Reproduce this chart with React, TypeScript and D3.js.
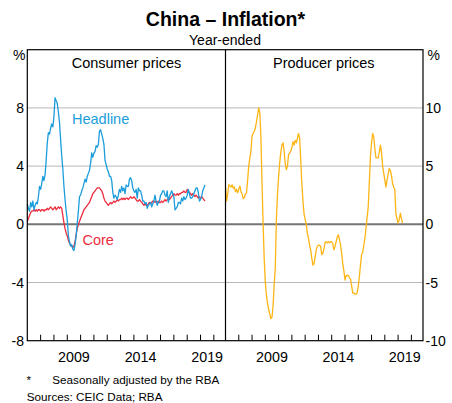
import React from "react";
import * as d3 from "d3";

// Monthly data, Jan 2006 – May 2019 (year-ended %, seasonally adjusted)
const startYear = 2006;

const headline: number[] = [
  // 2006
  1.4, 1.1, 0.9, 1.5, 1.2, 1.6, 1.0, 1.3, 1.5, 1.4, 1.9, 2.6,
  // 2007
  2.4, 2.8, 3.3, 3.0, 3.4, 4.4, 5.6, 6.3, 6.2, 6.6, 6.9, 6.7,
  // 2008
  7.4, 8.7, 8.5, 8.3, 7.7, 7.0, 5.8, 4.7, 3.8, 2.6, 1.7, 0.9,
  // 2009
  0.3, -0.8, -1.2, -1.5, -1.4, -1.7, -1.8, -1.4, -0.8, 0.1, 0.9, 1.9,
  // 2010
  2.0, 2.3, 2.5, 2.8, 3.1, 2.9, 3.3, 3.5, 3.7, 4.2, 4.9, 4.6,
  // 2011
  4.9, 5.0, 5.4, 5.3, 5.5, 6.4, 6.5, 6.2, 5.9, 5.5, 4.4, 4.1,
  // 2012
  3.8, 3.6, 3.3, 3.3, 3.0, 2.2, 1.8, 2.0, 1.9, 1.7, 2.0, 2.4,
  // 2013
  2.2, 2.6, 2.3, 2.5, 2.1, 2.7, 2.6, 2.6, 3.1, 3.2, 3.0, 2.5,
  // 2014
  2.3, 2.2, 2.4, 1.8, 2.5, 2.3, 2.3, 2.0, 1.6, 1.6, 1.4, 1.5,
  // 2015
  1.1, 1.3, 1.4, 1.5, 1.2, 1.4, 1.6, 2.0, 1.6, 1.3, 1.5, 1.6,
  // 2016
  2.0, 2.1, 2.3, 2.3, 2.0, 1.9, 2.3, 1.5, 1.9, 2.1, 2.3, 2.1,
  // 2017
  1.9, 1.0, 1.1, 1.2, 1.5, 1.5, 1.4, 1.8, 1.6, 1.9, 1.7, 1.8,
  // 2018
  2.0, 2.4, 2.1, 1.8, 1.8, 1.9, 2.1, 2.3, 2.5, 2.5, 2.2, 1.6,
  // 2019
  1.7, 1.9, 2.3, 2.5, 2.7,
];

const core: number[] = [
  // 2006
  0.2, 0.4, 0.6, 0.8, 0.9, 0.9, 1.0, 0.9, 1.0, 0.9, 1.0, 1.0,
  // 2007
  0.9, 1.0, 1.0, 0.9, 1.0, 1.0, 1.1, 1.0, 1.1, 1.2, 1.1, 1.0,
  // 2008
  1.1, 1.2, 1.0, 1.1, 1.2, 1.1, 1.2, 1.1, 0.6, 0.1, -0.3, -0.6,
  // 2009
  -0.8, -1.1, -1.3, -1.4, -1.5, -1.6, -1.5, -1.2, -0.7, -0.3, 0.0, 0.2,
  // 2010
  0.4, 0.6, 0.8, 1.0, 1.1, 1.2, 1.3, 1.4, 1.5, 1.7, 1.9, 2.1,
  // 2011
  2.2, 2.3, 2.4, 2.5, 2.5, 2.5, 2.4, 2.3, 2.1, 1.8, 1.6, 1.5,
  // 2012
  1.4, 1.3, 1.4, 1.5, 1.4, 1.5, 1.6, 1.5, 1.6, 1.7, 1.6, 1.7,
  // 2013
  1.7, 1.8, 1.7, 1.8, 1.7, 1.8, 1.8, 1.7, 1.8, 1.9, 1.8, 1.8,
  // 2014
  1.9, 1.8, 1.7, 1.6, 1.6, 1.7, 1.6, 1.5, 1.4, 1.3, 1.4, 1.3,
  // 2015
  1.3, 1.4, 1.5, 1.4, 1.5, 1.6, 1.5, 1.6, 1.5, 1.5, 1.6, 1.5,
  // 2016
  1.5, 1.6, 1.5, 1.6, 1.7, 1.6, 1.7, 1.8, 1.7, 1.8, 1.9, 2.0,
  // 2017
  2.1, 2.0, 2.0, 2.1, 2.0, 2.1, 2.1, 2.2, 2.2, 2.3, 2.2, 2.2,
  // 2018
  2.4, 2.3, 2.2, 2.1, 2.0, 2.1, 2.0, 1.9, 2.0, 1.9, 1.8, 1.9,
  // 2019
  1.8, 1.9, 1.8, 1.7, 1.6,
];

const producer: number[] = [
  // 2006
  3.2, 2.0, 2.6, 3.4, 3.3, 3.2, 3.4, 3.1, 3.2, 2.8, 3.0, 2.7,
  // 2007
  3.0, 3.3, 2.8, 2.6, 2.2, 2.3, 2.6, 2.7, 3.8, 5.0, 5.7, 6.3,
  // 2008
  7.6, 7.8, 8.0, 8.3, 8.8, 9.4, 10.0, 9.6, 7.5, 3.5, 0.0, -3.0,
  // 2009
  -5.0, -6.1, -6.8, -7.3, -7.7, -8.1, -8.0, -7.0, -5.2, -3.7, 0.5, 2.6,
  // 2010
  4.1, 5.3, 6.2, 6.8, 7.0, 6.3, 5.2, 4.7, 5.0, 6.0, 6.1, 6.3,
  // 2011
  6.6, 7.1, 6.8, 7.2, 7.0, 7.4, 7.8, 7.4, 5.5, 3.5, 2.0, 0.9,
  // 2012
  0.4, 0.0, -0.8, -1.2, -1.8, -2.2, -2.9, -3.5, -3.4, -2.8, -2.2, -1.9,
  // 2013
  -1.8, -1.8, -1.9, -2.6, -2.5, -2.1, -1.55, -1.5, -1.6, -1.5, -1.6, -1.5,
  // 2014
  -1.5, -1.7, -2.2, -1.9, -1.5, -1.1, -0.9, -1.3, -1.8, -2.5, -3.4, -4.0,
  // 2015
  -4.8, -4.4, -4.4, -4.4, -4.6, -4.7, -5.3, -5.9, -5.9, -6.0, -6.0, -5.9,
  // 2016
  -5.3, -4.5, -3.5, -2.6, -2.4, -1.8, -1.2, -0.3, 0.6, 1.5, 3.6, 5.8,
  // 2017
  7.0, 7.8, 7.5, 6.5, 5.7, 5.7, 5.7, 6.2, 6.8, 6.2, 5.0, 4.4,
  // 2018
  3.8, 3.2, 3.8, 4.3, 4.8, 4.6, 4.2, 3.5, 3.2, 3.0, 0.9, 0.5,
  // 2019
  0.1, 0.4, 0.95, 0.5, 0.1,
];

const leftTicks = [-8, -4, 0, 4, 8];
const rightTicks = [-10, -5, 0, 5, 10];
const yearLabels = [2009, 2014, 2019];
const yearTicks = d3.range(2007, 2021);

const W = 452;
const H = 403;
const FONT = "'Liberation Sans', Arial, Helvetica, sans-serif";

const plotLeft = 27.3;
const plotMid = 225.5;
const plotRight = 423;
const plotTop = 49.7;
const plotBottom = 340.7;

const xDomain: [number, number] = [2006, 2020.875];
const xLeft = d3.scaleLinear().domain(xDomain).range([plotLeft, plotMid]);
const xRight = d3.scaleLinear().domain(xDomain).range([plotMid, plotRight]);
const yLeft = d3.scaleLinear().domain([-8, 12]).range([plotBottom, plotTop]);
const yRight = d3.scaleLinear().domain([-10, 15]).range([plotBottom, plotTop]);

const t = (i: number) => startYear + i / 12;

function makeLine(x: d3.ScaleLinear<number, number>, y: d3.ScaleLinear<number, number>) {
  return d3
    .line<number>()
    .x((_, i) => x(t(i)))
    .y((d) => y(d));
}

export default function App() {
  const lineL = makeLine(xLeft, yLeft);
  const lineR = makeLine(xRight, yRight);
  const blue = "#1b9ddb";
  const red = "#ec2d3f";
  const amber = "#fdb515";

  return (
    <div style={{ position: "absolute", left: 0, top: 0 }}>
      <svg width={W} height={H} style={{ display: "block", fontFamily: FONT }}>
        <rect x={0} y={0} width={W} height={H} fill="#fff" />
        {/* Titles */}
        <text x={225.5} y={25.8} textAnchor="middle" fontSize={19.5} fontWeight="bold" fill="#000">
          China – Inflation*
        </text>
        <text x={225} y={45.3} textAnchor="middle" fontSize={14} fill="#000">
          Year-ended
        </text>
        <text x={126.5} y={68.3} textAnchor="middle" fontSize={14.5} fill="#000">
          Consumer prices
        </text>
        <text x={323.8} y={68.3} textAnchor="middle" fontSize={14.5} fill="#000">
          Producer prices
        </text>
        <text x={13} y={59.5} fontSize={14} fill="#000">%</text>
        <text x={427.5} y={59.5} fontSize={14} fill="#000">%</text>

        {/* Gridlines */}
        {leftTicks
          .filter((v) => v !== 0 && v !== -8)
          .map((v) => (
            <line key={"g" + v} x1={plotLeft} x2={plotRight} y1={yLeft(v)} y2={yLeft(v)} stroke="#b8b8b8" strokeWidth={1} />
          ))}
        <line x1={plotLeft} x2={plotRight} y1={yLeft(0)} y2={yLeft(0)} stroke="#757575" strokeWidth={2} />

        {/* Year ticks */}
        {yearTicks.map((yr) => (
          <g key={"t" + yr}>
            <line x1={xLeft(yr)} x2={xLeft(yr)} y1={plotBottom} y2={plotBottom - 6} stroke="#000" strokeWidth={1} />
            <line x1={xRight(yr)} x2={xRight(yr)} y1={plotBottom} y2={plotBottom - 6} stroke="#000" strokeWidth={1} />
          </g>
        ))}

        {/* Series */}
        <path d={lineL(core) || ""} fill="none" stroke={red} strokeWidth={1.3} strokeLinejoin="round" />
        <path d={lineL(headline) || ""} fill="none" stroke={blue} strokeWidth={1.3} strokeLinejoin="round" />
        <path d={lineR(producer) || ""} fill="none" stroke={amber} strokeWidth={1.3} strokeLinejoin="round" />

        {/* Series labels */}
        <text x={72} y={124} fontSize={14.5} fill={blue}>Headline</text>
        <text x={82.5} y={245} fontSize={14.5} fill={red}>Core</text>

        {/* Frame */}
        <rect x={plotLeft} y={plotTop} width={plotRight - plotLeft} height={plotBottom - plotTop} fill="none" stroke="#000" strokeWidth={1.2} />
        <line x1={plotMid} x2={plotMid} y1={plotTop} y2={plotBottom} stroke="#000" strokeWidth={1.2} />

        {/* Y tick labels */}
        {leftTicks.map((v) => (
          <text key={"l" + v} x={24} y={yLeft(v)} dy="0.36em" textAnchor="end" fontSize={14} fill="#000">
            {v}
          </text>
        ))}
        {rightTicks.map((v) => (
          <text key={"r" + v} x={425.5} y={yRight(v)} dy="0.36em" textAnchor="start" fontSize={14} fill="#000">
            {v}
          </text>
        ))}

        {/* X labels */}
        {yearLabels.map((yr) => (
          <g key={"y" + yr}>
            <text x={xLeft(yr + 0.5)} y={361.5} textAnchor="middle" fontSize={14.3} fill="#000">{yr}</text>
            <text x={xRight(yr + 0.5)} y={361.5} textAnchor="middle" fontSize={14.3} fill="#000">{yr}</text>
          </g>
        ))}

        {/* Footnotes */}
        <text x={26.5} y={383.5} fontSize={11.7} fill="#000">*</text>
        <text x={52.3} y={384} fontSize={11.7} fill="#000">Seasonally adjusted by the RBA</text>
        <text x={26.7} y={400.5} fontSize={11.7} fill="#000">Sources: CEIC Data; RBA</text>
      </svg>
    </div>
  );
}
